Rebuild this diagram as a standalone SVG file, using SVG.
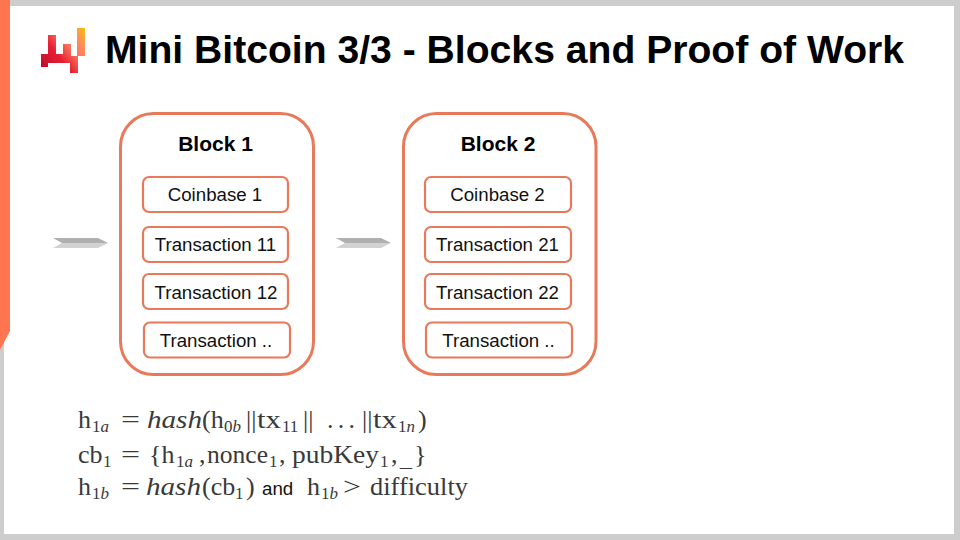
<svg xmlns="http://www.w3.org/2000/svg" width="960" height="540" viewBox="0 0 960 540">
<style>
.s{font-family:"Liberation Sans",Arial,sans-serif;fill:#111}
.t{font-size:38.5px;font-weight:700;fill:#000}
.bl{font-size:21px;font-weight:700;text-anchor:middle;fill:#000}
.it{font-size:18.700px;text-anchor:middle}
.outer{fill:#fff;stroke:#e8795a;stroke-width:3}
.inner{fill:#fff;stroke:#e8795a;stroke-width:2.2}
.m{font-family:"Liberation Serif","Times New Roman",serif;font-size:26px;fill:#3a3a3a}
.i{font-style:italic}
.b{font-size:17px}
.up{fill:#b0b0b0}
.lo{fill:#d2d2d2}
</style>
<defs>
<linearGradient id="g" gradientUnits="userSpaceOnUse" x1="41" y1="66" x2="85" y2="30">
<stop offset="0" stop-color="#c00d2d"/><stop offset="0.35" stop-color="#e81f32"/><stop offset="0.62" stop-color="#f9785f"/><stop offset="0.8" stop-color="#ff8f5a"/><stop offset="1" stop-color="#fdb515"/>
</linearGradient>
<filter id="soft" x="-5%" y="-5%" width="110%" height="110%"><feGaussianBlur stdDeviation="0.400"/></filter>
</defs>
<rect width="960" height="540" fill="#cdcdcd"/>
<rect x="4" y="6" width="950" height="528" fill="#fff"/>
<path d="M0 0H10V331L0 350Z" fill="#ff7550"/>
<g id="logo"><path filter="url(#soft)" d="M41 54H48V35H56V54H63V44H71V56H77V28H85V56H78V73H70V63H48V67H41Z" fill="url(#g)"/></g>
<g id="title"><text class="s t" x="105" y="63" textLength="799" lengthAdjust="spacingAndGlyphs">Mini Bitcoin 3/3 - Blocks and Proof of Work</text></g>

<g id="connectors">
<path class="up" d="M53 238H98L108 243H62Z"/><path class="lo" d="M62 243H108L98 248H53Z"/>
<path class="up" d="M336 238H381L391 243H345Z"/><path class="lo" d="M345 243H391L381 248H336Z"/>
</g>

<g id="block1">
<rect class="outer" x="120.500" y="113.500" width="193" height="261" rx="33"/>
<text class="s bl" x="215.500" y="151">Block 1</text>
<g id="b1-coinbase"><rect class="inner" x="143" y="177" width="145" height="35" rx="6"/><text class="s it" x="215" y="200.500">Coinbase 1</text></g>
<g id="b1-tx11"><rect class="inner" x="143" y="227" width="145" height="35" rx="6"/><text class="s it" x="215.500" y="250.500">Transaction 11</text></g>
<g id="b1-tx12"><rect class="inner" x="143" y="274" width="145" height="35" rx="6"/><text class="s it" x="216" y="298.500">Transaction 12</text></g>
<g id="b1-txn"><rect class="inner" x="144" y="322.500" width="146" height="35" rx="6"/><text class="s it" x="216" y="346.500">Transaction ..</text></g>
</g>

<g id="block2">
<rect class="outer" x="403.500" y="113.500" width="192.500" height="261" rx="33"/>
<text class="s bl" x="498" y="151">Block 2</text>
<g id="b2-coinbase"><rect class="inner" x="425" y="177" width="146" height="35" rx="6"/><text class="s it" x="497.500" y="200.500">Coinbase 2</text></g>
<g id="b2-tx21"><rect class="inner" x="425" y="227" width="146" height="35" rx="6"/><text class="s it" x="497.500" y="250.500">Transaction 21</text></g>
<g id="b2-tx22"><rect class="inner" x="425" y="274" width="146" height="35" rx="6"/><text class="s it" x="497.500" y="298.500">Transaction 22</text></g>
<g id="b2-txn"><rect class="inner" x="426" y="322.500" width="146" height="35" rx="6"/><text class="s it" x="498.500" y="346.500">Transaction ..</text></g>
</g>

<g id="formula" class="m">
<text x="78" y="428">h</text><text class="b" x="92" y="432">1<tspan class="i">a</tspan></text>
<text x="121" y="428" textLength="19" lengthAdjust="spacingAndGlyphs">=</text>
<text class="i" x="147" y="428" textLength="55" lengthAdjust="spacingAndGlyphs">hash</text>
<text x="202" y="428">(h</text><text class="b" x="224" y="432">0<tspan class="i">b</tspan></text>
<text x="246" y="428">||</text><text x="257" y="428" textLength="24" lengthAdjust="spacingAndGlyphs">tx</text><text class="b" x="282" y="432">11</text>
<text x="303" y="428">||</text><text x="327" y="428" textLength="28">...</text><text x="362" y="428">||</text><text x="373" y="428" textLength="24" lengthAdjust="spacingAndGlyphs">tx</text><text class="b" x="398" y="432">1<tspan class="i">n</tspan></text>
<text x="418" y="428">)</text>

<text x="78" y="463">cb</text><text class="b" x="103" y="467">1</text>
<text x="121" y="463" textLength="19" lengthAdjust="spacingAndGlyphs">=</text>
<text x="149" y="463">{h</text><text class="b" x="176" y="467">1<tspan class="i">a</tspan></text>
<text x="199" y="463">,</text>
<text x="207" y="463" textLength="61" lengthAdjust="spacingAndGlyphs">nonce</text><text class="b" x="269" y="467">1</text>
<text x="279" y="463">,</text>
<text x="292" y="463" textLength="87" lengthAdjust="spacingAndGlyphs">pubKey</text><text class="b" x="380" y="467">1</text>
<text x="391" y="463">,</text>
<text class="b" x="400" y="467" textLength="12" lengthAdjust="spacingAndGlyphs">_</text>
<text x="414" y="463">}</text>

<text x="78" y="495">h</text><text class="b" x="92" y="499">1<tspan class="i">b</tspan></text>
<text x="121" y="495" textLength="19" lengthAdjust="spacingAndGlyphs">=</text>
<text class="i" x="146" y="495" textLength="55" lengthAdjust="spacingAndGlyphs">hash</text>
<text x="202" y="495">(cb</text><text class="b" x="235" y="499">1</text><text x="246" y="495">)</text>
<text class="s" x="262" y="495" font-size="18.700">and</text>
<text x="307" y="495">h</text><text class="b" x="321" y="499">1<tspan class="i">b</tspan></text>
<text x="343" y="495" textLength="18" lengthAdjust="spacingAndGlyphs">&gt;</text>
<text x="370" y="495" textLength="98" lengthAdjust="spacingAndGlyphs">difficulty</text>
</g>
</svg>
